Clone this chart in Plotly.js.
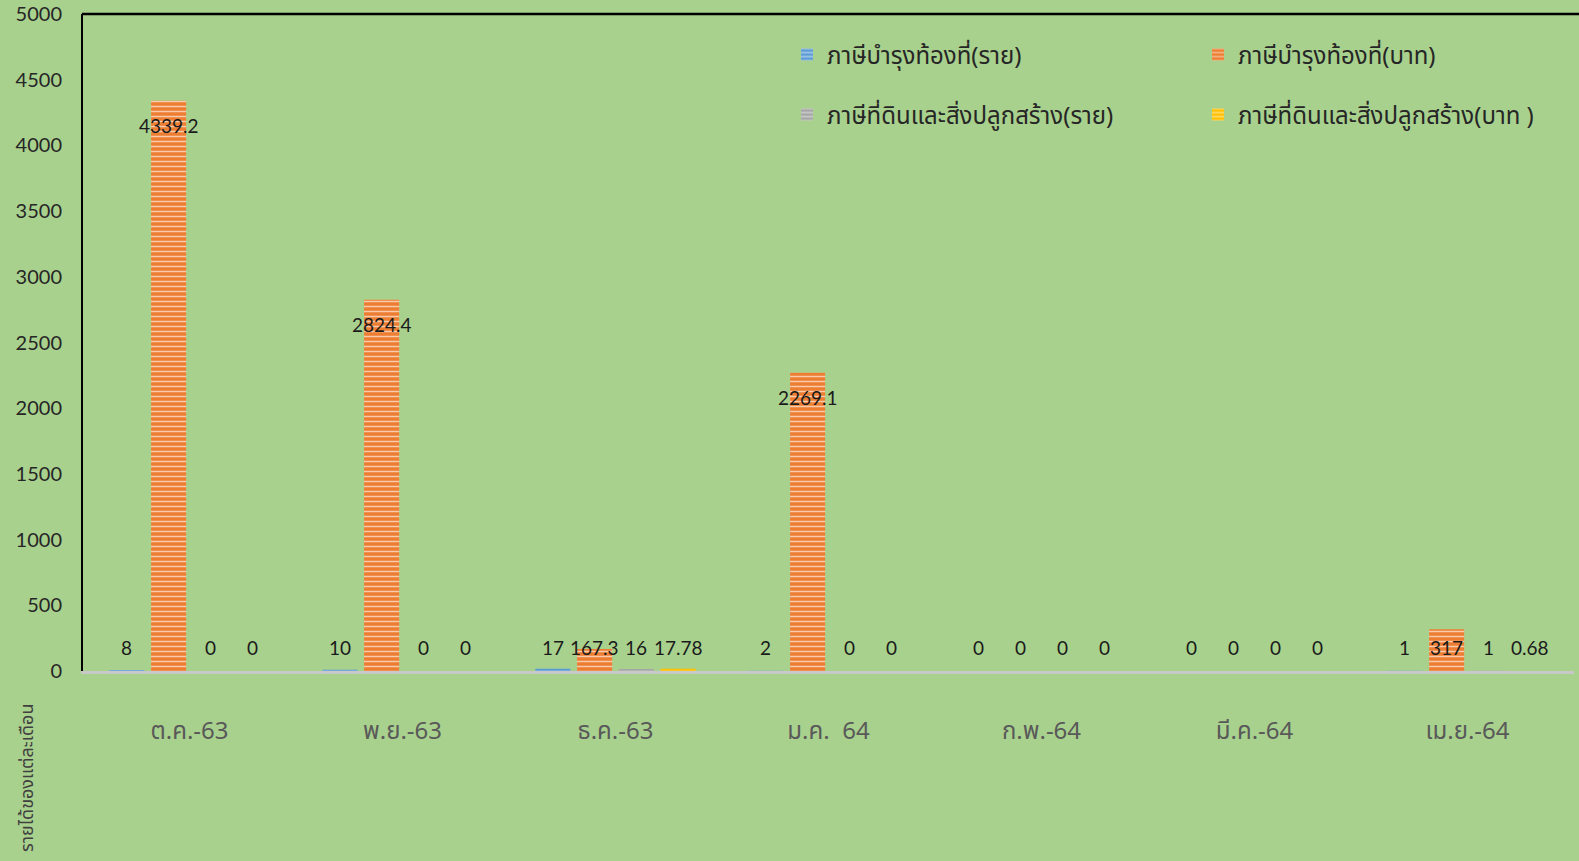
<!DOCTYPE html>
<html>
<head>
<meta charset="utf-8">
<script src="https://cdn.plot.ly/plotly-3.0.1.min.js"></script>
<style>html,body{margin:0;padding:0;background:#a9d18e;}#chart{width:1579px;height:861px;}</style>
</head>
<body>
<div id="chart"></div>
<script>
const categories = ["ต.ค.-63", "พ.ย.-63", "ธ.ค.-63", "ม.ค.  64", "ก.พ.-64", "มี.ค.-64", "เม.ย.-64"];
const seriesNames = ["ภาษีบำรุงท้องที่(ราย)", "ภาษีบำรุงท้องที่(บาท)", "ภาษีที่ดินและสิ่งปลูกสร้าง(ราย)", "ภาษีที่ดินและสิ่งปลูกสร้าง(บาท )"];
const localTaxCount = [8, 10, 17, 2, 0, 0, 1];
const localTaxBaht = [4339.2, 2824.4, 167.3, 2269.1, 0, 0, 317];
const landTaxCount = [0, 0, 16, 0, 0, 0, 1];
const landTaxBaht = [0, 0, 17.78, 0, 0, 0, 0.68];
const yTicks = [0, 500, 1000, 1500, 2000, 2500, 3000, 3500, 4000, 4500, 5000];
const yTitle = "รายได้ของแต่ละเดือน";

const colors = ["#5b9bd5", "#ed7d31", "#a5a5a5", "#ffc000"];
const stripe = ["#bdd7ee", "#f8cbad", "#dbdbdb", "#ffe699"];
const allSeries = [localTaxCount, localTaxBaht, landTaxCount, landTaxBaht];
const thaiFont = "Noto Sans Thai, Noto Sans, DejaVu Sans, sans-serif";
const numFont = "Lato, Noto Sans, sans-serif";
const legendIds = ["legend", "legend2", "legend3", "legend4"];

const traces = allSeries.map((vals, i) => ({
  type: "bar",
  name: seriesNames[i],
  x: categories,
  y: vals,
  legend: legendIds[i],
  marker: {
    color: colors[i],
    line: {width: 0},
    pattern: {shape: "-", fgcolor: stripe[i], bgcolor: colors[i], size: 5, solidity: 0.3}
  },
  hoverinfo: "none"
}));

const W = 1579, H = 861, mL = 83, mR = 5, mT = 14, mB = 190;
const plotW = W - mL - mR;
const plotH = H - mT - mB;
const yMax = 5000;
const pxPerUnit = plotH / yMax;
const slot = 41.7;
const annotations = [];
allSeries.forEach((vals, s) => {
  vals.forEach((v, c) => {
    const big = v * pxPerUnit > 48;
    annotations.push({
      x: categories[c], y: big ? v : 0, xref: "x", yref: "y",
      xshift: (s - 1.5) * slot, yshift: big ? -25 : 24,
      text: String(v), showarrow: false, yanchor: "middle", xanchor: "center",
      font: {family: numFont, size: 19, color: "#1a1a1a"}
    });
  });
});
annotations.push({
  xref: "paper", yref: "paper", x: (27 - mL) / plotW, y: (671 - 778) / plotH,
  text: yTitle, textangle: -90, showarrow: false,
  xanchor: "center", yanchor: "middle",
  font: {family: thaiFont, size: 18, color: "#404040"}
});

function legendAt(px, py) {
  return {
    orientation: "h", x: (px - mL) / plotW, y: (671 - py) / plotH,
    xanchor: "left", yanchor: "middle", bgcolor: "rgba(0,0,0,0)",
    font: {family: thaiFont, size: 24, color: "#262626"}, itemclick: false
  };
}

const layout = {
  width: W, height: H,
  margin: {l: mL, r: mR, t: mT, b: mB},
  paper_bgcolor: "#a9d18e",
  plot_bgcolor: "#a9d18e",
  barmode: "group",
  bargap: 0.216,
  bargroupgap: 0.16,
  showlegend: true,
  legend: legendAt(787, 55),
  legend2: legendAt(1198, 55),
  legend3: legendAt(787, 115),
  legend4: legendAt(1198, 115),
  xaxis: {
    type: "category",
    showline: true, linecolor: "#c8c8c8", linewidth: 3,
    showgrid: false, zeroline: false,
    ticks: "", ticklabelstandoff: 36,
    tickfont: {family: thaiFont, size: 24, color: "#595959"}
  },
  yaxis: {
    range: [0, yMax],
    tickvals: yTicks,
    ticktext: yTicks.map(String),
    showline: true, linecolor: "#000000", linewidth: 2,
    showgrid: false, zeroline: false,
    ticks: "", ticklabelstandoff: 15,
    tickfont: {family: numFont, size: 20, color: "#262626"}
  },
  shapes: [{
    type: "line", xref: "paper", yref: "paper", x0: -0.0007, x1: 1.01, y0: 1, y1: 1,
    line: {color: "#000000", width: 2.5}
  }],
  annotations: annotations
};

Plotly.newPlot("chart", traces, layout, {staticPlot: true, displayModeBar: false});
</script>
</body>
</html>
